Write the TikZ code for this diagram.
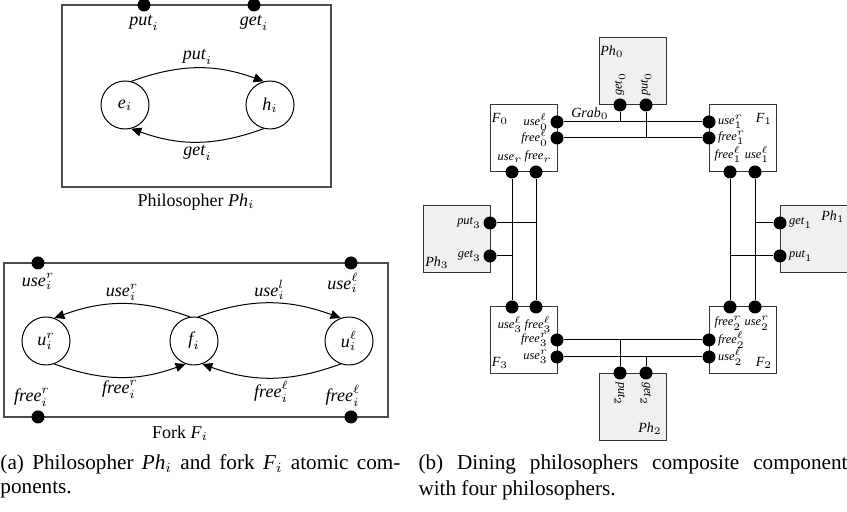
\documentclass[tikz,border=0pt]{standalone}
\usepackage{fontspec}
\setmainfont{Liberation Serif}
\usetikzlibrary{arrows.meta,automata,positioning}

\newcommand\ident[1]{\textit{#1}}

\tikzset{
  port/.style={circle, fill=black, inner sep=0pt, minimum size=6.5pt},
  atom/.style={draw=black!70, line width=0.6pt, inner sep=0pt},
  comp/.style={draw=black!80, line width=0.5pt, inner sep=0pt,
    minimum width=33.5pt, minimum height=33.5pt},
  phil/.style={comp, fill=gray!12},
  lbl/.style={font=\fontsize{6.2}{7}\selectfont, inner sep=0.8pt},
  namelbl/.style={font=\fontsize{7}{8}\selectfont, inner sep=1pt},
  biglbl/.style={font=\small, inner sep=1.5pt},
  every label/.style={lbl},
  every state/.style={draw, line width=0.5pt, minimum size=24pt,
    inner sep=0pt, font=\small},
}

\begin{document}
\begin{tikzpicture}[x=0.5pt, y=-0.5pt, line width=0.5pt]
      \useasboundingbox (0,0) rectangle (847,512);
      % Philosopher atom
      \node[atom, minimum width=134.5pt, minimum height=91pt] (phi) at (196.5,96) {};
      \node[port, label={[biglbl]below:$\ident{put}_i$}] (puti) at (144,5) {};
      \node[port, label={[biglbl]below:$\ident{get}_i$}] (geti) at (254,5) {};
      \node[state] (e) at (125,105) {$\ident{e}_i$};
      \node[state, right=48pt of e] (h) {$\ident{h}_i$};
      \node[font=\small] (phcap) at (196,202) {Philosopher $\ident{Ph}_i$};
      % Fork atom
      \node[atom, minimum width=192pt, minimum height=77pt] (fork) at (196,340) {};
      \node[port, label={[biglbl]below:$\ident{use}^r_i$}] (useri) at (38,263) {};
      \node[port, label={[biglbl, xshift=-4pt]below:$\ident{use}^\ell_i$}] (useli) at (351,263) {};
      \node[port, label={[biglbl, xshift=-3pt]above:$\ident{free}^r_i$}] (freeri) at (38,417) {};
      \node[port, label={[biglbl, xshift=-4pt]above:$\ident{free}^\ell_i$}] (freeli) at (351,417) {};
      \node[state] (ur) at (46,341) {$\ident{u}^r_i$};
      \node[state, right=49.5pt of ur] (f) {$\ident{f}_i$};
      \node[state, right=53pt of f] (ul) {$\ident{u}^\ell_i$};
      \node[font=\small] (fkcap) at (180,433) {Fork $\ident{F}_i$};
      % Transitions
      \path[->, >={Triangle[length=5pt,width=4.5pt]}]
      (e.75)    edge[out=20, in=160]  node[biglbl, above] {$\ident{put}_i$} (h.105)
      (h.-105)  edge[out=200, in=-20] node[biglbl, below] {$\ident{get}_i$} (e.-75)
      (f.100)   edge[out=160, in=20]  node[biglbl, above] {$\ident{use}^r_i$} (ur.70)
      (f.80)    edge[out=20, in=160]  node[biglbl, above] {$\ident{use}^l_i$} (ul.110)
      (ur.-70)  edge[out=-20, in=200] node[biglbl, below] {$\ident{free}^r_i$} (f.-110)
      (ul.-110) edge[out=200, in=-20] node[biglbl, below] {$\ident{free}^\ell_i$} (f.-70);
      % Composite: components
      \node[phil] (ph0) at (633,71.5) {};
      \node[comp] (f0) at (523.5,138.5) {};
      \node[comp] (f1) at (742.5,138.5) {};
      \node[phil] (ph3) at (456.5,239.5) {};
      \node[phil, minimum width=35pt] (ph1) at (815,239.5) {};
      \node[comp] (f3) at (523.5,340) {};
      \node[comp] (f2) at (742.5,340) {};
      \node[phil] (ph2) at (633,407) {};
      \node[namelbl] (ph0l) at (612,52) {$\ident{Ph}_0$};
      \node[namelbl] (ph1l) at (833,217) {$\ident{Ph}_1$};
      \node[namelbl] (ph2l) at (650,429) {$\ident{Ph}_2$};
      \node[namelbl] (ph3l) at (437,263) {$\ident{Ph}_3$};
      \node[namelbl] (f0l) at (500,119) {$\ident{F}_0$};
      \node[namelbl] (f1l) at (764,119) {$\ident{F}_1$};
      \node[namelbl] (f2l) at (764,363) {$\ident{F}_2$};
      \node[namelbl] (f3l) at (500,363) {$\ident{F}_3$};
      \node[namelbl] (grab) at (590,114) {$\ident{Grab}_0$};
      % Composite: ports
      \node[port, label={[rotate=90, anchor=west]above:$\ident{get}_0$}] (get0) at (620,105) {};
      \node[port, label={[rotate=90, anchor=west]above:$\ident{put}_0$}] (put0) at (646,105) {};
      \node[port, label=left:$\ident{use}^\ell_0$] (use0l) at (557,122) {};
      \node[port, label=left:$\ident{free}^\ell_0$] (free0l) at (557,138) {};
      \node[port, label={[xshift=-1pt]above:$\ident{use}_r$}] (use0r) at (512,172) {};
      \node[port, label={[xshift=1pt]above:$\ident{free}_r$}] (free0r) at (536,172) {};
      \node[port, label=right:$\ident{use}^r_1$] (use1r) at (709,122) {};
      \node[port, label=right:$\ident{free}^r_1$] (free1r) at (709,138) {};
      \node[port, label={[xshift=-1pt]above:$\ident{free}^\ell_1$}] (free1l) at (730,172) {};
      \node[port, label={[xshift=1pt]above:$\ident{use}^\ell_1$}] (use1l) at (755,172) {};
      \node[port, label=left:$\ident{put}_3$] (put3) at (490,223) {};
      \node[port, label=left:$\ident{get}_3$] (get3) at (490,256) {};
      \node[port, label=right:$\ident{get}_1$] (get1) at (780,223) {};
      \node[port, label=right:$\ident{put}_1$] (put1) at (780,256) {};
      \node[port, label={[xshift=-1pt]below:$\ident{use}^\ell_3$}] (use3l) at (512,307) {};
      \node[port, label={[xshift=1pt]below:$\ident{free}^\ell_3$}] (free3l) at (536,307) {};
      \node[port, label=left:$\ident{free}^r_3$] (free3r) at (557,340) {};
      \node[port, label=left:$\ident{use}^r_3$] (use3r) at (557,357) {};
      \node[port, label={[xshift=-1pt]below:$\ident{free}^r_2$}] (free2r) at (730,307) {};
      \node[port, label={[xshift=1pt]below:$\ident{use}^r_2$}] (use2r) at (755,307) {};
      \node[port, label=right:$\ident{free}^\ell_2$] (free2l) at (709,340) {};
      \node[port, label=right:$\ident{use}^\ell_2$] (use2l) at (709,357) {};
      \node[port, label={[rotate=-90, anchor=west]below:$\ident{put}_2$}] (put2) at (620,373) {};
      \node[port, label={[rotate=-90, anchor=west]below:$\ident{get}_2$}] (get2) at (646,373) {};
      % Composite: connectors
      \draw (use0l) -- (use1r) (free0l) -- (free1r)
        (get0) -- (get0 |- use0l) (put0) -- (put0 |- free0l);
      \draw (use0r) -- (use3l) (free0r) -- (free3l)
        (put3) -- (put3 -| free0r) (get3) -- (get3 -| use0r);
      \draw (free1l) -- (free2r) (use1l) -- (use2r)
        (get1) -- (get1 -| use1l) (put1) -- (put1 -| free1l);
      \draw (free3r) -- (free2l) (use3r) -- (use2l)
        (put2) -- (put2 |- free3r) (get2) -- (get2 |- use3r);
      % Captions
      \begin{scope}[every node/.style={anchor=west, inner sep=0pt,
          font=\fontsize{10.6}{12}\selectfont}]
      \node (capa1) at (0,464)
        {\makebox[200pt][s]{(a) Philosopher $\ident{Ph}_i$ and fork $\ident{F}_i$ atomic com-}};
      \node (capa2) at (0,490) {ponents.};
      \node (capb1) at (418,464)
        {\makebox[214.5pt][s]{(b) Dining philosophers composite component}};
      \node (capb2) at (418,490) {with four philosophers.};
      \end{scope}
\end{tikzpicture}
\end{document}
